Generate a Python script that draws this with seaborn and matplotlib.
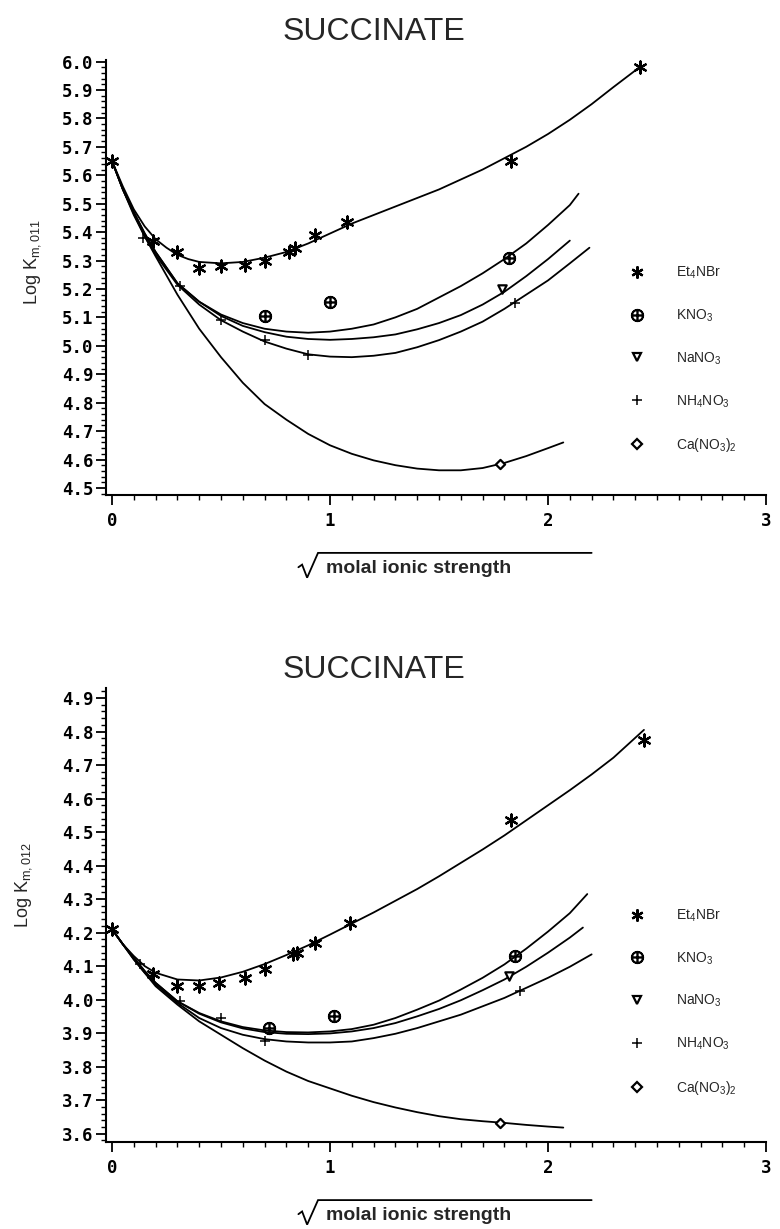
import numpy as np
import pandas as pd
import matplotlib
matplotlib.use("Agg")
import matplotlib.pyplot as plt
import matplotlib.transforms as mtransforms
from matplotlib.lines import Line2D
from matplotlib.ticker import MultipleLocator, FormatStrFormatter
import seaborn as sns

sns.set_theme(style="ticks")
plt.rcParams['font.family'] = ['Liberation Sans', 'DejaVu Sans']
plt.rcParams['mathtext.fontset'] = 'custom'
plt.rcParams['mathtext.rm'] = 'Liberation Sans'
plt.rcParams['mathtext.it'] = 'Liberation Sans:italic'
plt.rcParams['mathtext.bf'] = 'Liberation Sans:bold'

# ---------------- data ----------------
salts = ["Et$_4$NBr", "KNO$_3$", "NaNO$_3$", "NH$_4$NO$_3$", "Ca(NO$_3$)$_2$"]
title = "SUCCINATE"
ylabels = ["Log K$_{\\mathrm{m,011}}$", "Log K$_{\\mathrm{m,012}}$"]
xlabel = "molal ionic strength"
xticks = [0, 1, 2, 3]

# top panel: measured points
et_x_top = [0.00, 0.19, 0.30, 0.40, 0.50, 0.61, 0.70, 0.81, 0.84, 0.93, 1.08, 1.83, 2.42]
et_y_top = [5.65, 5.37, 5.33, 5.275, 5.28, 5.285, 5.30, 5.33, 5.345, 5.39, 5.435, 5.65, 5.98]
kno3_x_top = [0.70, 1.00, 1.82]
kno3_y_top = [5.105, 5.155, 5.31]
nano3_x_top = [1.79]
nano3_y_top = [5.20]
nh4_x_top = [0.14, 0.31, 0.50, 0.70, 0.90, 1.85]
nh4_y_top = [5.38, 5.21, 5.09, 5.02, 4.968, 5.15]
ca_x_top = [1.78]
ca_y_top = [4.585]

# top panel: fitted curves
et_cx_top = [0, 0.05, 0.1, 0.15, 0.2, 0.25, 0.3, 0.35, 0.4, 0.5, 0.6, 0.7, 0.8, 0.9, 1.0, 1.1, 1.2,
             1.3, 1.4, 1.5, 1.6, 1.7, 1.8, 1.9, 2.0, 2.1, 2.2, 2.3, 2.42]
et_cy_top = [5.65, 5.56, 5.48, 5.42, 5.375, 5.345, 5.32, 5.305, 5.295, 5.29, 5.295, 5.31, 5.33, 5.36,
             5.395, 5.43, 5.46, 5.49, 5.52, 5.55, 5.585, 5.62, 5.66, 5.70, 5.745, 5.795, 5.85, 5.91, 5.98]
kno3_cx_top = [0, 0.05, 0.1, 0.15, 0.2, 0.3, 0.4, 0.5, 0.6, 0.7, 0.8, 0.9, 1.0, 1.1, 1.2, 1.3, 1.4,
               1.5, 1.6, 1.7, 1.8, 1.9, 2.0, 2.1, 2.14]
kno3_cy_top = [5.65, 5.55, 5.47, 5.395, 5.33, 5.22, 5.155, 5.11, 5.08, 5.06, 5.05, 5.046, 5.05, 5.06,
               5.075, 5.10, 5.13, 5.17, 5.21, 5.255, 5.305, 5.36, 5.425, 5.495, 5.535]
nano3_cx_top = [0, 0.05, 0.1, 0.15, 0.2, 0.3, 0.4, 0.5, 0.6, 0.7, 0.8, 0.9, 1.0, 1.1, 1.2, 1.3, 1.4,
                1.5, 1.6, 1.7, 1.8, 1.9, 2.0, 2.1]
nano3_cy_top = [5.65, 5.55, 5.47, 5.395, 5.33, 5.22, 5.155, 5.105, 5.07, 5.048, 5.032, 5.024, 5.021,
                5.024, 5.03, 5.04, 5.058, 5.08, 5.108, 5.145, 5.19, 5.245, 5.305, 5.37]
nh4_cx_top = [0, 0.05, 0.1, 0.15, 0.2, 0.3, 0.4, 0.5, 0.6, 0.7, 0.8, 0.9, 1.0, 1.1, 1.2, 1.3, 1.4,
              1.5, 1.6, 1.7, 1.8, 1.9, 2.0, 2.1, 2.19]
nh4_cy_top = [5.65, 5.55, 5.46, 5.385, 5.32, 5.215, 5.145, 5.09, 5.05, 5.015, 4.99, 4.97, 4.962, 4.96,
              4.965, 4.975, 4.995, 5.02, 5.05, 5.085, 5.13, 5.18, 5.23, 5.29, 5.345]
ca_cx_top = [0, 0.05, 0.1, 0.15, 0.2, 0.3, 0.4, 0.5, 0.6, 0.7, 0.8, 0.9, 1.0, 1.1, 1.2, 1.3, 1.4,
             1.5, 1.6, 1.7, 1.8, 1.9, 2.0, 2.07]
ca_cy_top = [5.65, 5.55, 5.465, 5.385, 5.315, 5.18, 5.06, 4.96, 4.87, 4.795, 4.74, 4.69, 4.65, 4.62,
             4.597, 4.58, 4.568, 4.562, 4.562, 4.57, 4.588, 4.612, 4.64, 4.66]

# bottom panel: measured points
et_x_bot = [0.00, 0.19, 0.30, 0.40, 0.49, 0.61, 0.70, 0.83, 0.85, 0.93, 1.09, 1.83, 2.44]
et_y_bot = [4.21, 4.075, 4.04, 4.04, 4.05, 4.065, 4.09, 4.135, 4.14, 4.17, 4.23, 4.535, 4.775]
kno3_x_bot = [0.72, 1.02, 1.85]
kno3_y_bot = [3.915, 3.95, 4.13]
nano3_x_bot = [1.82]
nano3_y_bot = [4.07]
nh4_x_bot = [0.13, 0.31, 0.50, 0.70, 1.87]
nh4_y_bot = [4.105, 3.995, 3.945, 3.875, 4.025]
ca_x_bot = [1.78]
ca_y_bot = [3.632]

# bottom panel: fitted curves
et_cx_bot = [0, 0.05, 0.1, 0.15, 0.2, 0.3, 0.4, 0.5, 0.6, 0.7, 0.8, 0.9, 1.0, 1.1, 1.2, 1.3, 1.4,
             1.5, 1.6, 1.7, 1.8, 1.9, 2.0, 2.1, 2.2, 2.3, 2.44]
et_cy_bot = [4.21, 4.165, 4.13, 4.10, 4.08, 4.06, 4.057, 4.066, 4.083, 4.106, 4.133, 4.162, 4.194,
             4.227, 4.26, 4.295, 4.33, 4.368, 4.408, 4.448, 4.49, 4.535, 4.58, 4.625, 4.672, 4.722, 4.805]
kno3_cx_bot = [0, 0.05, 0.1, 0.15, 0.2, 0.3, 0.4, 0.5, 0.6, 0.7, 0.8, 0.9, 1.0, 1.1, 1.2, 1.3, 1.4,
               1.5, 1.6, 1.7, 1.8, 1.9, 2.0, 2.1, 2.18]
kno3_cy_bot = [4.21, 4.165, 4.125, 4.085, 4.05, 3.995, 3.96, 3.935, 3.918, 3.908, 3.903, 3.902, 3.905,
               3.912, 3.925, 3.945, 3.97, 3.997, 4.03, 4.065, 4.105, 4.152, 4.203, 4.258, 4.315]
nano3_cx_bot = [0, 0.05, 0.1, 0.15, 0.2, 0.3, 0.4, 0.5, 0.6, 0.7, 0.8, 0.9, 1.0, 1.1, 1.2, 1.3, 1.4,
                1.5, 1.6, 1.7, 1.8, 1.9, 2.0, 2.1, 2.16]
nano3_cy_bot = [4.21, 4.165, 4.125, 4.085, 4.05, 3.995, 3.958, 3.932, 3.914, 3.903, 3.898, 3.897,
                3.899, 3.905, 3.915, 3.93, 3.95, 3.972, 3.998, 4.028, 4.06, 4.098, 4.14, 4.185, 4.215]
nh4_cx_bot = [0, 0.05, 0.1, 0.15, 0.2, 0.3, 0.4, 0.5, 0.6, 0.7, 0.8, 0.9, 1.0, 1.1, 1.2, 1.3, 1.4,
              1.5, 1.6, 1.7, 1.8, 1.9, 2.0, 2.1, 2.2]
nh4_cy_bot = [4.21, 4.165, 4.12, 4.08, 4.045, 3.99, 3.945, 3.915, 3.895, 3.882, 3.875, 3.872, 3.872,
              3.875, 3.885, 3.898, 3.915, 3.935, 3.955, 3.98, 4.005, 4.035, 4.065, 4.098, 4.135]
ca_cx_bot = [0, 0.05, 0.1, 0.15, 0.2, 0.3, 0.4, 0.5, 0.6, 0.7, 0.8, 0.9, 1.0, 1.1, 1.2, 1.3, 1.4,
             1.5, 1.6, 1.7, 1.8, 1.9, 2.0, 2.07]
ca_cy_bot = [4.21, 4.165, 4.12, 4.08, 4.04, 3.985, 3.935, 3.895, 3.855, 3.818, 3.785, 3.757, 3.735,
             3.713, 3.694, 3.678, 3.664, 3.652, 3.643, 3.637, 3.632, 3.626, 3.621, 3.618]

# ---------------- styling ----------------
marker_style = {
    salts[0]: dict(marker=(6, 2, 0), s=75, facecolor="black", edgecolor="black", linewidths=1.6),
    salts[1]: dict(marker=r"$\oplus$", s=70, facecolor="black", edgecolor="black", linewidths=1.2),
    salts[2]: dict(marker="v", s=36, facecolor="white", edgecolor="black", linewidths=1.6),
    salts[3]: dict(marker="+", s=60, facecolor="black", edgecolor="black", linewidths=1.1),
    salts[4]: dict(marker="D", s=22, facecolor="white", edgecolor="black", linewidths=1.6),
}


def frame(xs, ys):
    rows = []
    for s, x, y in zip(salts, xs, ys):
        rows.append(pd.DataFrame({"salt": s, "x": x, "y": y}))
    return pd.concat(rows, ignore_index=True)


panels = [
    dict(points=frame([et_x_top, kno3_x_top, nano3_x_top, nh4_x_top, ca_x_top],
                      [et_y_top, kno3_y_top, nano3_y_top, nh4_y_top, ca_y_top]),
         curves=frame([et_cx_top, kno3_cx_top, nano3_cx_top, nh4_cx_top, ca_cx_top],
                      [et_cy_top, kno3_cy_top, nano3_cy_top, nh4_cy_top, ca_cy_top]),
         ylim=(4.475, 6.005), rect=[0.1359, 0.5972, 0.8462, 0.3539],
         leg_anchor=(2.375, 5.285), title_y=1 - 40 / 1229, ylab_pos=(0.042, 1 - 262 / 1229),
         xl_y=(-0.170, -0.133, -0.190)),
    dict(points=frame([et_x_bot, kno3_x_bot, nano3_x_bot, nh4_x_bot, ca_x_bot],
                      [et_y_bot, kno3_y_bot, nano3_y_bot, nh4_y_bot, ca_y_bot]),
         curves=frame([et_cx_bot, kno3_cx_bot, nano3_cx_bot, nh4_cx_bot, ca_cx_bot],
                      [et_cy_bot, kno3_cy_bot, nano3_cy_bot, nh4_cy_bot, ca_cy_bot]),
         ylim=(3.575, 4.93), rect=[0.1359, 0.0708, 0.8462, 0.3694],
         leg_anchor=(2.375, 4.275), title_y=1 - 678 / 1229, ylab_pos=(0.030, 1 - 885 / 1229),
         xl_y=(-0.163, -0.128, -0.182)),
]

fig = plt.figure(figsize=(7.8, 12.29), dpi=100)
fig.patch.set_facecolor("white")

for i, p in enumerate(panels):
    ax = fig.add_axes(p["rect"])
    ax.set_facecolor("white")
    sns.lineplot(data=p["curves"], x="x", y="y", units="salt", estimator=None,
                 color="black", linewidth=1.3, ax=ax, legend=False)
    for s in salts:
        sub = p["points"][p["points"]["salt"] == s]
        sns.scatterplot(data=sub, x="x", y="y", ax=ax, legend=False, zorder=3, **marker_style[s])

    ax.set_xlim(-0.0275, 3.0)
    ax.set_ylim(*p["ylim"])
    ax.set_xticks(xticks)
    ax.set_xticklabels([str(t) for t in xticks])
    ax.xaxis.set_minor_locator(MultipleLocator(0.1))
    ax.yaxis.set_major_locator(MultipleLocator(0.1))
    ax.yaxis.set_minor_locator(MultipleLocator(0.02))
    ax.yaxis.set_major_formatter(FormatStrFormatter("%.1f"))
    ax.tick_params(which="major", direction="out", length=7, width=1.3, color="black", pad=2)
    ax.tick_params(which="minor", direction="out", length=3.5, width=1.0, color="black")
    for lab in ax.get_xticklabels() + ax.get_yticklabels():
        lab.set_fontfamily("DejaVu Sans Mono")
        lab.set_fontweight("bold")
        lab.set_fontsize(12.5)
        lab.set_color("black")
    ax.tick_params(axis="x", pad=5)
    sns.despine(ax=ax)
    for sp in ("left", "bottom"):
        ax.spines[sp].set_linewidth(1.5)
        ax.spines[sp].set_color("black")
    ax.set_xlabel("")
    ax.set_ylabel("")

    # legend
    handles = []
    for s in salts:
        st = marker_style[s]
        handles.append(Line2D([], [], linestyle="none", marker=st["marker"],
                              markersize=np.sqrt(st["s"]),
                              markerfacecolor=st["facecolor"],
                              markeredgecolor="black",
                              markeredgewidth=st["linewidths"]))
    ax.legend(handles, salts, loc="upper left", bbox_to_anchor=p["leg_anchor"],
              bbox_transform=ax.transData, frameon=False, fontsize=10,
              handlelength=1.0, handletextpad=2.3, labelspacing=1.9,
              borderpad=0, borderaxespad=0)

    # x label: radical sign drawn as a stroke joined to its overline
    tr = mtransforms.blended_transform_factory(ax.transData, ax.transAxes)
    yt, yl, yb = p["xl_y"]
    ax.text(0.98, yt, xlabel, transform=tr, ha="left", va="center", fontsize=14,
            fontweight="bold")
    ax.plot([0.855, 0.872, 0.895, 0.945, 2.2], [yt + 0.004, yt + 0.010, yb, yl, yl],
            transform=tr, color="black", lw=1.3, clip_on=False, solid_joinstyle="miter")

    # titles and y labels
    fig.text(374 / 780, p["title_y"], title, ha="center", va="baseline", fontsize=23)
    fig.text(p["ylab_pos"][0], p["ylab_pos"][1], ylabels[i], rotation=90, ha="center",
             va="center", fontsize=13)

fig.savefig("out.png", dpi=100, facecolor="white")
